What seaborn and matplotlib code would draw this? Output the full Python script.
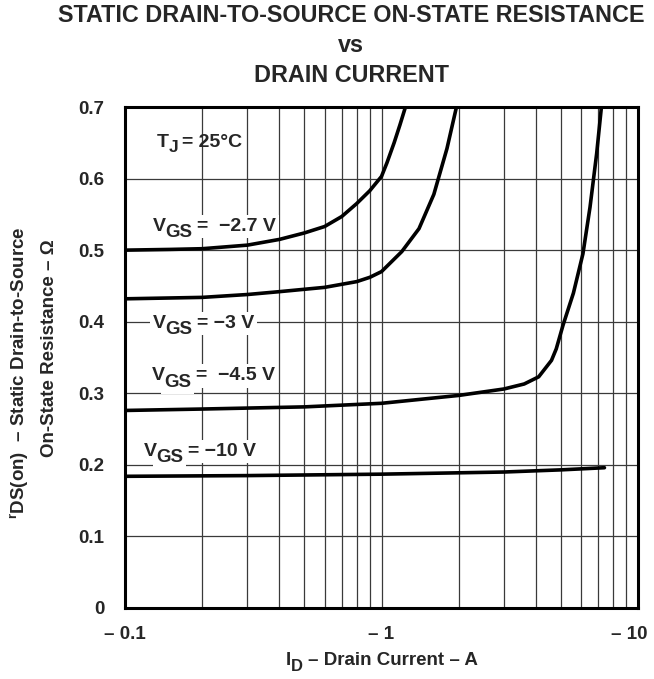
import numpy as np
import pandas as pd
import matplotlib
matplotlib.use("Agg")
import matplotlib.pyplot as plt
import matplotlib.transforms as mtransforms
import seaborn as sns

# Drain current magnitude (A) and rDS(on) (ohm) for each gate voltage
id_27 = [0.1, 0.15, 0.2, 0.3, 0.4, 0.5, 0.6, 0.7, 0.8, 0.9, 1.0, 1.05, 1.12, 1.18, 1.24]
r_27 = [0.500, 0.501, 0.502, 0.507, 0.515, 0.524, 0.533, 0.547, 0.565, 0.583, 0.603, 0.622, 0.650, 0.675, 0.700]

id_3 = [0.1, 0.2, 0.3, 0.4, 0.6, 0.8, 0.9, 1.0, 1.2, 1.4, 1.6, 1.8, 1.96]
r_3 = [0.432, 0.434, 0.438, 0.442, 0.448, 0.456, 0.462, 0.470, 0.498, 0.530, 0.578, 0.642, 0.700]

id_45 = [0.1, 0.2, 0.5, 1.0, 2.0, 3.0, 3.6, 4.1, 4.6, 4.8, 5.1, 5.6, 6.1, 6.5, 6.9, 7.2]
r_45 = [0.276, 0.278, 0.281, 0.286, 0.297, 0.306, 0.313, 0.323, 0.346, 0.362, 0.395, 0.440, 0.495, 0.560, 0.635, 0.700]

id_10 = [0.1, 0.3, 1.0, 3.0, 5.0, 7.4]
r_10 = [0.184, 0.185, 0.187, 0.190, 0.193, 0.196]

x_ticks = [0.1, 1, 10]
x_labels = ["\u2013 0.1", "\u2013 1", "\u2013 10"]
y_ticks = [0, 0.1, 0.2, 0.3, 0.4, 0.5, 0.6, 0.7]
y_labels = ["0", "0.1", "0.2", "0.3", "0.4", "0.5", "0.6", "0.7"]

sns.set_theme(style="white")
plt.rcParams['font.family'] = ['Liberation Sans', 'DejaVu Sans']
plt.rcParams['font.weight'] = 'bold'
plt.rcParams['mathtext.fontset'] = 'custom'
plt.rcParams['mathtext.rm'] = 'Liberation Sans:bold'
plt.rcParams['mathtext.it'] = 'Liberation Sans:bold'
plt.rcParams['mathtext.bf'] = 'Liberation Sans:bold'

W, H = 654, 679
fig = plt.figure(figsize=(W / 100, H / 100), dpi=100)
ax = fig.add_axes([125 / W, 71 / H, 513 / W, 501 / H])

for xs, ys in [(id_27, r_27), (id_3, r_3), (id_45, r_45), (id_10, r_10)]:
    sns.lineplot(x=xs, y=ys, ax=ax, color="black", lw=2.6, sort=False, zorder=5)

ax.set_xscale("log")
ax.set_xlim(0.1, 10)
ax.set_ylim(0, 0.7)
ax.set_xticks(x_ticks)
ax.set_xticklabels(x_labels, fontsize=13.5, fontweight="bold")
ax.set_xticks([m * d for d in (0.1, 1) for m in range(2, 10)], minor=True)
ax.set_xticklabels([], minor=True)
ax.set_yticks(y_ticks)
ax.set_yticklabels(y_labels, fontsize=13.5, fontweight="bold")
ax.tick_params(axis="both", which="both", length=0)
ax.tick_params(axis="x", pad=13)
ax.tick_params(axis="y", pad=15)
ax.grid(True, which="both", axis="x", color="#3a3a3a", lw=0.9)
ax.grid(True, which="major", axis="y", color="#3a3a3a", lw=0.9)
for s in ax.spines.values():
    s.set_color("black")
    s.set_linewidth(2.2)
ax.set_xlabel("")
ax.set_ylabel("")

# keep the last x label inside the figure
last = ax.get_xticklabels()[-1]
last.set_transform(last.get_transform() + mtransforms.ScaledTranslation(-6 / 72, 0, fig.dpi_scale_trans))

renderer = fig.canvas.get_renderer()
box = dict(facecolor="white", edgecolor="none", pad=2.2)


def pieces(x, y, parts, xycoords, ha="left", bbox=None):
    # parts: (text, fontsize, vertical offset in points, gap after in points)
    texts, off = [], 0.0
    for s, fs, dy, gap in parts:
        t = ax.annotate(s, (x, y), xycoords=xycoords, xytext=(off, dy),
                        textcoords="offset points", fontsize=fs, va="baseline",
                        ha="left", zorder=4.6, annotation_clip=False)
        texts.append(t)
        if bbox is not None:
            # white backing drawn under all the text pieces
            b = ax.annotate(s, (x, y), xycoords=xycoords, xytext=(off, dy),
                            textcoords="offset points", fontsize=fs, va="baseline",
                            ha="left", color="white", bbox=bbox, zorder=4.0,
                            annotation_clip=False)
            texts.append(b)
        off += t.get_window_extent(renderer).width * 72 / fig.dpi + gap
    if ha == "center":
        for t in texts:
            t.xyann = (t.xyann[0] - off / 2, t.xyann[1])


pieces(0.1333, 0.6445, [("T", 14, 0, -0.5), ("J", 12.5, -4, 2.8), ("= 25°C", 14, 0, 0)], "data")
pieces(0.1286, 0.527, [("V", 14, 0, -0.3), ("GS", 13.5, -4.5, 3.2), ("=  \u22122.7 V", 14, 0, 0)], "data", bbox=box)
pieces(0.1286, 0.391, [("V", 14, 0, -0.3), ("GS", 13.5, -4.5, 3.2), ("= \u22123 V", 14, 0, 0)], "data", bbox=box)
pieces(0.127, 0.318, [("V", 14, 0, -0.3), ("GS", 13.5, -4.5, 3.2), ("=  \u22124.5 V", 14, 0, 0)], "data", bbox=box)
pieces(0.1184, 0.2126, [("V", 14, 0, -0.3), ("GS", 13.5, -4.5, 3.2), ("= \u221210 V", 14, 0, 0)], "data", bbox=box)

pieces(382 / W, 1 - 665 / H, [("I", 13.5, 0, 0), ("D", 12, -4, 3.5), ("\u2013 Drain Current \u2013 A", 13.5, 0, 0)],
       "figure fraction", ha="center")
fig.text(20 / W, 1 - 373 / H, "$^{r}$DS(on)  \u2013 Static Drain-to-Source", fontsize=13.5,
         rotation=90, ha="center", va="center")
fig.text(50 / W, 1 - 348 / H, "On-State Resistance \u2013 \u03a9", fontsize=13.5,
         rotation=90, ha="center", va="center")

fig.text(351 / W, 1 - 16 / H, "STATIC DRAIN-TO-SOURCE ON-STATE RESISTANCE", fontsize=16.8,
         ha="center", va="center")
fig.text(351 / W, 1 - 46 / H, "vs", fontsize=16.8, ha="center", va="center")
fig.text(351 / W, 1 - 75 / H, "DRAIN CURRENT", fontsize=16.8, ha="center", va="center")

fig.savefig("out.png", dpi=100)
